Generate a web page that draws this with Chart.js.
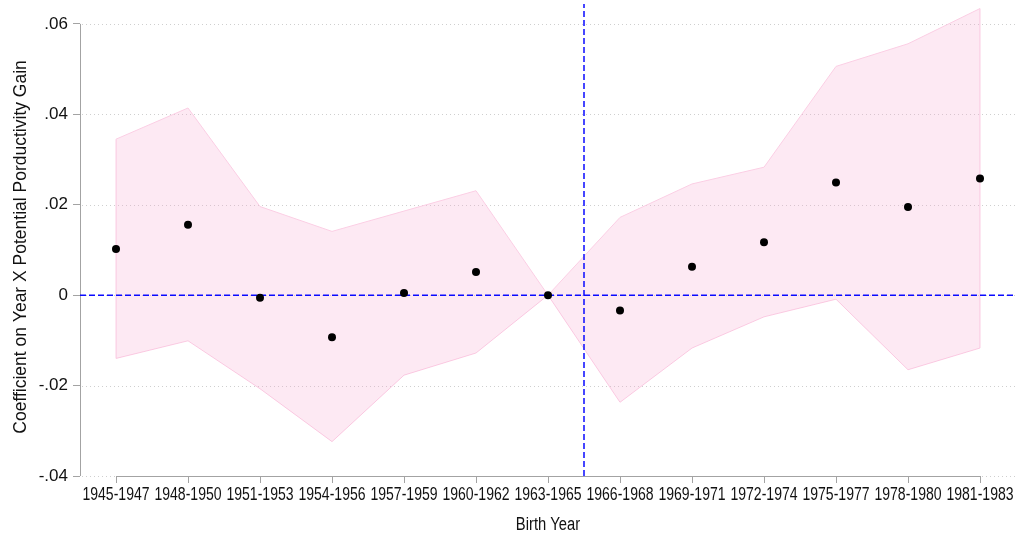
<!DOCTYPE html>
<html>
<head>
<meta charset="utf-8">
<script src="https://cdn.jsdelivr.net/npm/chart.js@4.4.1/dist/chart.umd.min.js"></script>
<style>
  html, body { margin: 0; padding: 0; background: #fff; overflow: hidden; }
  canvas { display: block; }
</style>
</head>
<body>
<canvas id="c" width="1020" height="537"></canvas>
<script>
// Birth-year cohorts (x categories)
const cohorts = ['1945-1947', '1948-1950', '1951-1953', '1954-1956', '1957-1959', '1960-1962',
                 '1963-1965', '1966-1968', '1969-1971', '1972-1974', '1975-1977', '1978-1980', '1981-1983'];
// Point estimates
const coef    = [0.0102, 0.0156, -0.0006, -0.0093, 0.0005, 0.0051, 0.0000, -0.0034, 0.0063, 0.0117, 0.0249, 0.0195, 0.0258];
// Confidence interval bounds
const ciUpper = [0.0345, 0.0414, 0.0196, 0.0141, 0.0186, 0.0231, 0.0000, 0.0172, 0.0246, 0.0283, 0.0506, 0.0556, 0.0634];
const ciLower = [-0.0140, -0.0101, -0.0207, -0.0324, -0.0177, -0.0128, 0.0000, -0.0237, -0.0117, -0.0048, -0.0009, -0.0165, -0.0117];
// Y tick values
const yTicks  = [-0.04, -0.02, 0, 0.02, 0.04, 0.06];
// Reference lines: zero effect, and the break between the 1963-1965 and 1966-1968 cohorts
const refY = 0;
const dividerX = 6.5;
// Axis titles
const xTitle = 'Birth Year';
const yTitle = 'Coefficient on Year X Potential Porductivity Gain';

const Y_MIN = -0.04, Y_MAX = 0.0644;
const X_MIN = -0.5, X_MAX = cohorts.length - 0.5;

const sans = "'Liberation Sans', Arial, Helvetica, sans-serif";
const textColor = '#111';
const axisGray = '#a3a3a3';
const blue = 'rgb(10,10,255)';
const bandFill = 'rgba(248,170,210,0.26)';
const bandLine = 'rgb(251,206,228)';
const CONDENSE = 0.78;        // horizontal squeeze for the condensed cohort labels
const CONDENSE_TITLE = 0.82;  // and for the x-axis title

const pts = (ys) => ys.map((y, i) => ({ x: i, y }));

function fmtY(v) {
  const r = Math.round(v * 100) / 100;
  if (r === 0) return '0';
  return (r < 0 ? '-' : '') + Math.abs(r).toFixed(2).replace(/^0/, '');
}

// Dotted horizontal gridlines and the two axis lines
const framePlugin = {
  id: 'frame',
  beforeDatasetsDraw(chart) {
    const { ctx, chartArea: a, scales: { x, y } } = chart;
    ctx.save();
    ctx.strokeStyle = '#cfcfcf';
    ctx.lineWidth = 1;
    ctx.setLineDash([1, 3]);
    yTicks.forEach(v => {
      const py = Math.round(y.getPixelForValue(v)) + 0.5;
      ctx.beginPath();
      ctx.moveTo(a.left + 2, py);
      ctx.lineTo(a.right, py);
      ctx.stroke();
    });
    ctx.setLineDash([]);
    ctx.strokeStyle = axisGray;
    const ax = Math.round(a.left) + 0.5;
    ctx.beginPath();
    ctx.moveTo(ax, y.getPixelForValue(yTicks[yTicks.length - 1]));
    ctx.lineTo(ax, y.getPixelForValue(yTicks[0]));
    ctx.stroke();
    const by = Math.round(y.getPixelForValue(Y_MIN)) + 0.5;
    ctx.beginPath();
    ctx.moveTo(x.getPixelForValue(0), by);
    ctx.lineTo(x.getPixelForValue(cohorts.length - 1), by);
    ctx.stroke();
    ctx.restore();
  },
  // Condensed cohort labels, x title and rotated y title
  afterDraw(chart) {
    const { ctx, chartArea: a, scales: { x, y } } = chart;
    ctx.save();
    ctx.fillStyle = textColor;
    ctx.textAlign = 'center';
    ctx.textBaseline = 'alphabetic';
    ctx.font = `18px ${sans}`;
    cohorts.forEach((c, i) => {
      ctx.save();
      ctx.translate(x.getPixelForValue(i), a.bottom + 24);
      ctx.scale(CONDENSE, 1);
      ctx.fillText(c, 0, 0);
      ctx.restore();
    });
    ctx.save();
    ctx.translate((x.getPixelForValue(0) + x.getPixelForValue(cohorts.length - 1)) / 2, a.bottom + 53.5);
    ctx.scale(CONDENSE_TITLE, 1);
    ctx.fillText(xTitle, 0, 0);
    ctx.restore();

    ctx.font = `17.5px ${sans}`;
    const midY = (y.getPixelForValue(yTicks[0]) + y.getPixelForValue(yTicks[yTicks.length - 1])) / 2 - 3;
    ctx.translate(26, midY);
    ctx.rotate(-Math.PI / 2);
    ctx.fillText(yTitle, 0, 0);
    ctx.restore();
  }
};

new Chart(document.getElementById('c'), {
  type: 'line',
  data: {
    datasets: [
      {
        label: 'Coefficient',
        data: pts(coef),
        showLine: false,
        pointRadius: 4,
        pointBackgroundColor: '#000',
        pointBorderWidth: 0,
        order: 0
      },
      {
        label: 'zero',
        data: [{ x: X_MIN, y: refY }, { x: X_MAX, y: refY }],
        borderColor: blue,
        borderWidth: 1.5,
        borderDash: [6, 3],
        pointRadius: 0,
        order: 1
      },
      {
        label: 'divider',
        data: [{ x: dividerX, y: Y_MIN }, { x: dividerX, y: Y_MAX }],
        borderColor: blue,
        borderWidth: 1.5,
        borderDash: [6, 3],
        pointRadius: 0,
        order: 1
      },
      {
        label: 'CI upper',
        data: pts(ciUpper),
        borderColor: bandLine,
        borderWidth: 1,
        backgroundColor: bandFill,
        fill: '+1',
        pointRadius: 0,
        tension: 0,
        order: 3
      },
      {
        label: 'CI lower',
        data: pts(ciLower),
        borderColor: bandLine,
        borderWidth: 1,
        fill: false,
        pointRadius: 0,
        tension: 0,
        order: 3
      },
      {
        label: 'CI left edge',
        data: [{ x: 0, y: ciLower[0] }, { x: 0, y: ciUpper[0] }],
        borderColor: bandLine,
        borderWidth: 1,
        pointRadius: 0,
        order: 3
      },
      {
        label: 'CI right edge',
        data: [{ x: cohorts.length - 1, y: ciLower[cohorts.length - 1] }, { x: cohorts.length - 1, y: ciUpper[cohorts.length - 1] }],
        borderColor: bandLine,
        borderWidth: 1,
        pointRadius: 0,
        order: 3
      }
    ]
  },
  options: {
    responsive: false,
    animation: false,
    devicePixelRatio: 1,
    layout: { padding: { top: 2, right: 0, left: 0, bottom: 0 } },
    plugins: {
      legend: { display: false },
      tooltip: { enabled: false }
    },
    scales: {
      x: {
        type: 'linear',
        min: X_MIN,
        max: X_MAX,
        afterBuildTicks: s => { s.ticks = cohorts.map((_, i) => ({ value: i })); },
        afterFit: s => { s.height = 61; s.paddingLeft = 0; s.paddingRight = 0; },
        ticks: {
          autoSkip: false,
          maxRotation: 0,
          padding: 3,
          color: 'rgba(0,0,0,0)',
          font: { family: sans, size: 10 },
          callback: v => cohorts[v]
        },
        grid: { drawOnChartArea: false, drawTicks: true, tickLength: 7, color: axisGray },
        border: { display: false }
      },
      y: {
        min: Y_MIN,
        max: Y_MAX,
        afterBuildTicks: s => { s.ticks = yTicks.map(v => ({ value: v })); },
        afterFit: s => { s.width = 80; s.paddingTop = 0; s.paddingBottom = 0; },
        ticks: {
          padding: 5,
          color: textColor,
          font: { family: sans, size: 17 },
          callback: v => fmtY(v)
        },
        grid: { drawOnChartArea: false, drawTicks: true, tickLength: 7, color: axisGray },
        border: { display: false }
      }
    }
  },
  plugins: [framePlugin]
});
</script>
</body>
</html>
